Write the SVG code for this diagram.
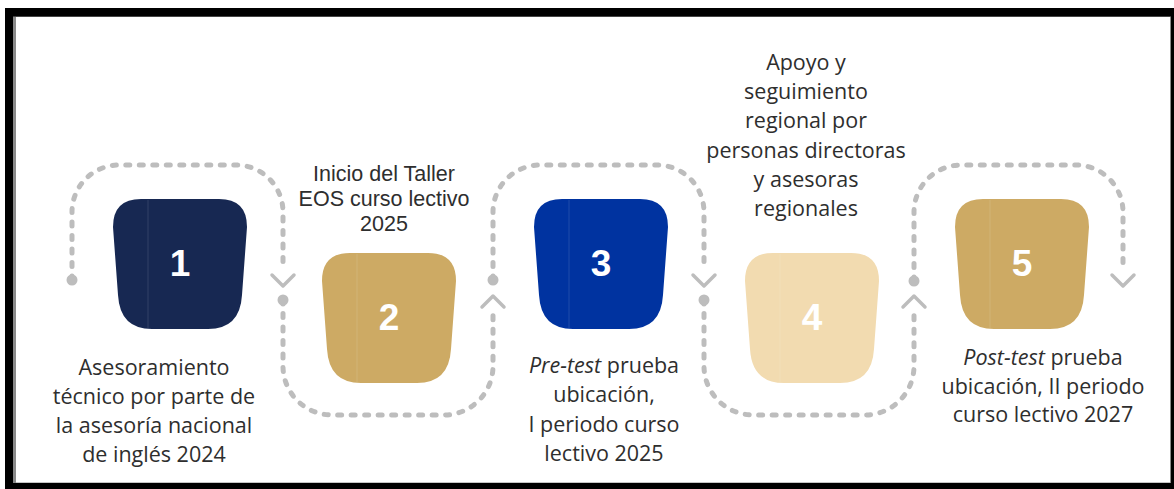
<svg xmlns="http://www.w3.org/2000/svg" width="1174" height="489" viewBox="0 0 1174 489">
  <defs>
    <style>
      .lbl { font-family: "Open Sans", "Liberation Sans", sans-serif; font-size: 21.5px; fill: #2e2e2e; text-anchor: middle; }
      .lbl2 { font-family: "Liberation Sans", Arial, sans-serif; font-size: 21.5px; fill: #2e2e2e; text-anchor: middle; }
      .num { font-family: "Liberation Sans", Arial, sans-serif; font-size: 37px; font-weight: bold; fill: #ffffff; text-anchor: middle; }
      .conn { fill: none; stroke: #bdbdbd; stroke-width: 5; stroke-linecap: round; stroke-dasharray: 4 9.5; }
      .chev { fill: none; stroke: #bdbdbd; stroke-width: 3.5; stroke-linecap: round; stroke-linejoin: round; }
      .dot { fill: #bdbdbd; }
      .seam { stroke: #ffffff; stroke-opacity: 0.12; stroke-width: 1; }
    </style>
    <path id="shape" d="M28,0 H106 Q134,0 134,28 L129,96 Q127,130 95,130 H39 Q7,130 5,96 L0,28 Q0,0 28,0 Z"/>
  </defs>

  <rect x="0" y="0" width="1174" height="489" fill="#ffffff"/>
  <!-- frame -->
  <rect x="5" y="8" width="1169" height="481" fill="#000000"/>
  <rect x="13" y="16.5" width="1158" height="466.5" fill="#8a8a8a"/>
  <rect x="16" y="17" width="1154" height="465.5" fill="#ffffff"/>

  <g id="connectors">
    <path class="conn" d="M72,280 V212 A47,47 0 0 1 119,165 H236 A47,47 0 0 1 283,212 V268"/>
    <path class="conn" d="M283,300 V366 A49,49 0 0 0 332,415 H444 A49,49 0 0 0 493,366 V314"/>
    <path class="conn" d="M493,280 V212 A47,47 0 0 1 540,165 H657 A47,47 0 0 1 704,212 V268"/>
    <path class="conn" d="M704,300 V366 A49,49 0 0 0 753,415 H865 A49,49 0 0 0 914,366 V314"/>
    <path class="conn" d="M914,281 V212 A47,47 0 0 1 961,165 H1076 A47,47 0 0 1 1123,212 V268"/>
    <circle class="dot" cx="72" cy="280" r="5.5"/>
    <circle class="dot" cx="283" cy="300" r="5.5"/>
    <circle class="dot" cx="493" cy="280" r="5.5"/>
    <circle class="dot" cx="704" cy="300" r="5.5"/>
    <circle class="dot" cx="914" cy="281" r="5.5"/>
    <path class="chev" d="M272,275 L283,286 L294,275"/>
    <path class="chev" d="M693,275 L704,286 L715,275"/>
    <path class="chev" d="M1112,275 L1123,286 L1134,275"/>
    <path class="chev" d="M482,307 L493,296 L504,307"/>
    <path class="chev" d="M903,307 L914,296 L925,307"/>
  </g>

  <g id="node1">
    <use href="#shape" x="113" y="199" fill="#172852"/>
    <line class="seam" x1="148" y1="200" x2="148" y2="328"/>
    <text class="num" x="180" y="276">1</text>
  </g>
  <g id="node2">
    <use href="#shape" x="322" y="253" fill="#cdaa64"/>
    <line class="seam" x1="357" y1="254" x2="357" y2="382"/>
    <text class="num" x="389" y="330">2</text>
  </g>
  <g id="node3">
    <use href="#shape" x="534" y="199" fill="#0033a0"/>
    <line class="seam" x1="569" y1="200" x2="569" y2="328"/>
    <text class="num" x="601" y="276">3</text>
  </g>
  <g id="node4">
    <use href="#shape" x="745" y="253" fill="#f2dbb0"/>
    <line class="seam" x1="780" y1="254" x2="780" y2="382"/>
    <text class="num" x="812" y="330">4</text>
  </g>
  <g id="node5">
    <use href="#shape" x="955" y="199" fill="#cdaa64"/>
    <line class="seam" x1="990" y1="200" x2="990" y2="328"/>
    <text class="num" x="1022" y="276">5</text>
  </g>

  <g id="label1">
    <text class="lbl" x="154" y="375">Asesoramiento</text>
    <text class="lbl" x="154" y="404">técnico por parte de</text>
    <text class="lbl" x="154" y="433">la asesoría nacional</text>
    <text class="lbl" x="154" y="462">de inglés 2024</text>
  </g>
  <g id="label2">
    <text class="lbl2" x="384" y="181">Inicio del Taller</text>
    <text class="lbl2" x="384" y="206">EOS curso lectivo</text>
    <text class="lbl2" x="384" y="231">2025</text>
  </g>
  <g id="label3">
    <text class="lbl" x="604" y="373"><tspan font-style="italic">Pre-test</tspan> prueba</text>
    <text class="lbl" x="604" y="402">ubicación,</text>
    <text class="lbl" x="604" y="432">I periodo curso</text>
    <text class="lbl" x="604" y="461">lectivo 2025</text>
  </g>
  <g id="label4">
    <text class="lbl" x="806" y="70">Apoyo y</text>
    <text class="lbl" x="806" y="99">seguimiento</text>
    <text class="lbl" x="806" y="128">regional por</text>
    <text class="lbl" x="806" y="158">personas directoras</text>
    <text class="lbl" x="806" y="187">y asesoras</text>
    <text class="lbl" x="806" y="216">regionales</text>
  </g>
  <g id="label5">
    <text class="lbl" x="1043" y="365"><tspan font-style="italic">Post-test</tspan> prueba</text>
    <text class="lbl" x="1043" y="394">ubicación, II periodo</text>
    <text class="lbl" x="1043" y="422">curso lectivo 2027</text>
  </g>
</svg>
